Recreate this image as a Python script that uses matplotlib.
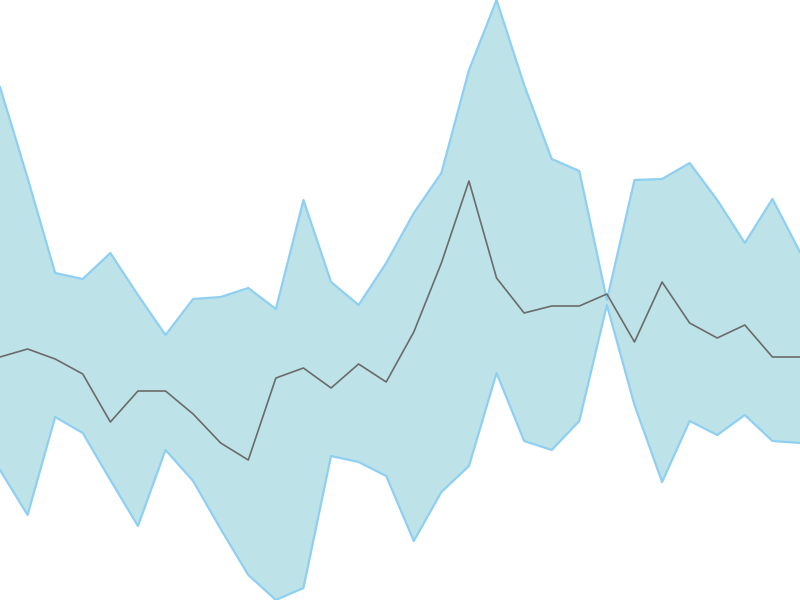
import matplotlib
matplotlib.use("Agg")
import matplotlib.pyplot as plt

# 30 evenly spaced samples
idx = list(range(30))

upper = [513, 422, 327, 321, 347, 305, 265, 301, 303, 312,
         291, 400, 318, 295, 337, 387, 427, 530, 600, 515,
         441, 429, 300, 420, 421, 437, 400, 357, 401, 348]
middle = [243, 251, 241, 226, 178, 209, 209, 186, 157, 140,
          222, 232, 212, 236, 218, 268, 337, 419, 322, 287,
          294, 294, 306, 258, 318, 277, 262, 275, 243, 243]
lower = [130, 85, 183, 167, 120, 74, 150, 119, 71, 25,
         0, 12, 144, 138, 124, 59, 108, 134, 227, 159,
         150, 179, 295, 195, 118, 179, 165, 185, 159, 157]

fig = plt.figure(figsize=(8, 6), dpi=100)
ax = fig.add_axes([0, 0, 1, 1])

ax.fill_between(idx, lower, upper, color="#bde3e8", linewidth=0)
ax.plot(idx, upper, color="#8fcff2", linewidth=1.6)
ax.plot(idx, lower, color="#8fcff2", linewidth=1.6)
ax.plot(idx, middle, color="#6b6b6b", linewidth=1.2)

ax.set_xlim(0, 29)
ax.set_ylim(0, 600)
ax.axis("off")

fig.savefig("out.png", dpi=100)
